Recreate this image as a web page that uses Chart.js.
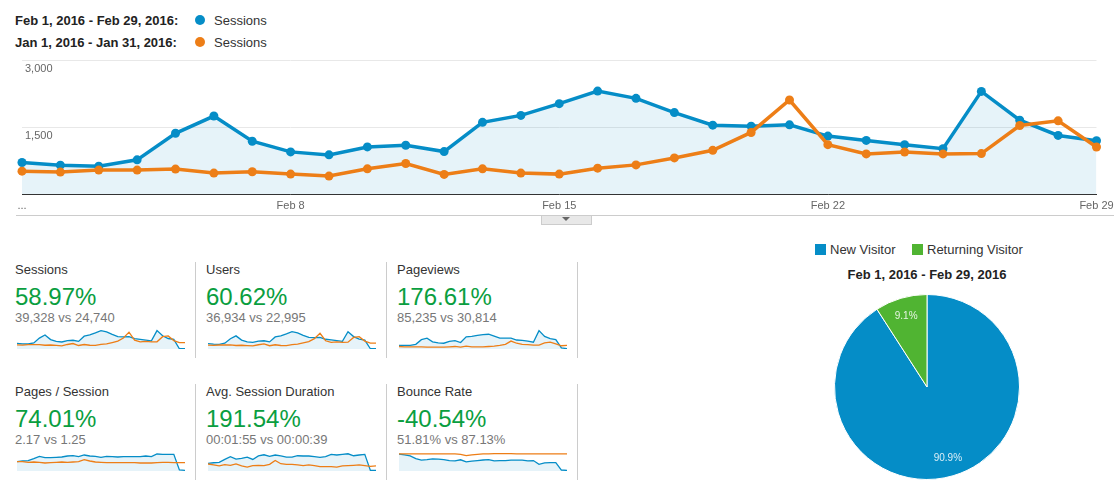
<!DOCTYPE html>
<html>
<head>
<meta charset="utf-8">
<title>Sessions</title>
<script src="https://cdn.jsdelivr.net/npm/chart.js@4/dist/chart.umd.min.js"></script>
<style>
    html, body { margin: 0; padding: 0; background: #fff; }
    body { position: relative; width: 1114px; height: 483px; overflow: hidden; font-family: "Liberation Sans", Arial, sans-serif; color: #333; }
    canvas { position: absolute; }
    .txt { position: absolute; white-space: nowrap; line-height: 16px; font-size: 13px; }
    .range { font-weight: bold; font-size: 13px; color: #222; left: 15px; }
    .dot { position: absolute; width: 10px; height: 10px; border-radius: 50%; left: 195px; }
    .pct { font-size: 24px; line-height: 28px; color: #0a9e40; }
    .sub { color: #777; }
    .divider { position: absolute; width: 1px; background: #ccc; }
    .square { position: absolute; width: 11px; height: 11px; top: 244px; }
</style>
</head>
<body>
<div class="txt range" style="top:13px">Feb 1, 2016 - Feb 29, 2016:</div>
<div class="dot" style="top:15px;background:#058dc7"></div>
<div class="txt" style="left:214px;top:13px">Sessions</div>
<div class="txt range" style="top:35px">Jan 1, 2016 - Jan 31, 2016:</div>
<div class="dot" style="top:37px;background:#ed7e17"></div>
<div class="txt" style="left:214px;top:35px">Sessions</div>

<canvas id="grafico" width="1114" height="170" style="left:0;top:50px"></canvas>

<div style="position:absolute;left:16px;right:0;top:215px;height:1px;background:#ccc"></div>
<div style="position:absolute;left:541px;top:215px;width:49px;height:8px;background:#e8e8e8;border:1px solid #ccc"></div>
<div style="position:absolute;left:562px;top:217px;border-left:4px solid transparent;border-right:4px solid transparent;border-top:4px solid #666"></div>

<div id="metricas"></div>

<div class="square" style="left:815px;background:#058dc7"></div>
<div class="txt" style="left:830px;top:242px">New Visitor</div>
<div class="square" style="left:912px;background:#50b432"></div>
<div class="txt" style="left:927px;top:242px">Returning Visitor</div>
<div class="txt" style="left:827px;width:200px;text-align:center;top:267px;font-weight:bold;font-size:13px;color:#222">Feb 1, 2016 - Feb 29, 2016</div>
<canvas id="pastel" width="194" height="194" style="left:830px;top:290px"></canvas>

<script>
const dias = ['Feb 1', 'Feb 2', 'Feb 3', 'Feb 4', 'Feb 5', 'Feb 6', 'Feb 7', 'Feb 8', 'Feb 9', 'Feb 10',
    'Feb 11', 'Feb 12', 'Feb 13', 'Feb 14', 'Feb 15', 'Feb 16', 'Feb 17', 'Feb 18', 'Feb 19', 'Feb 20',
    'Feb 21', 'Feb 22', 'Feb 23', 'Feb 24', 'Feb 25', 'Feb 26', 'Feb 27', 'Feb 28', 'Feb 29'];
const etiquetasX = ['...', 'Feb 8', 'Feb 15', 'Feb 22', 'Feb 29'];
const diasConEtiqueta = [0, 7, 14, 21, 28];
const etiquetasY = ['', '1,500', '3,000'];

const sesionesFeb = [705, 646, 624, 765, 1359, 1745, 1181, 943, 876, 1054, 1092, 950, 1604, 1760, 2023,
    2304, 2141, 1823, 1541, 1519, 1549, 1297, 1200, 1104, 1015, 2297, 1652, 1311, 1193];
const sesionesEne = [512, 490, 535, 535, 557, 468, 498, 446, 401, 564, 683, 438, 564, 468, 445,
    578, 652, 808, 978, 1378, 2104, 1104, 897, 941, 897, 904, 1534, 1638, 1052];

// sparklines: 31 puntos
const sparkSesionesFeb = [705, 646, 624, 765, 1359, 1745, 1181, 943, 876, 1054, 1092, 950, 1604, 1760, 2023,
    2304, 2141, 1823, 1541, 1519, 1549, 1297, 1200, 1104, 1015, 2297, 1652, 1311, 1193, 30, 30];
const sparkSesionesEne = [512, 490, 535, 535, 557, 468, 498, 446, 401, 564, 683, 438, 564, 468, 445,
    578, 652, 808, 978, 1378, 2104, 1104, 897, 941, 897, 904, 1534, 1638, 1052, 800, 790];
const sparkUsuariosFeb = [660, 610, 590, 720, 1280, 1640, 1110, 890, 820, 990, 1030, 890, 1510, 1650, 1900,
    2170, 2010, 1710, 1450, 1430, 1460, 1220, 1130, 1040, 950, 2160, 1550, 1230, 1120, 30, 30];
const sparkUsuariosEne = [480, 460, 500, 500, 520, 440, 470, 420, 380, 530, 640, 410, 530, 440, 420,
    540, 610, 760, 920, 1290, 1970, 1030, 840, 880, 840, 850, 1440, 1540, 990, 740, 730];
const sparkVistasFeb = [1200, 1200, 1200, 1560, 3120, 3600, 2400, 2040, 1920, 2520, 2760, 2160, 4080, 4200, 4560,
    4800, 4920, 4320, 3600, 3600, 3600, 3000, 2880, 2640, 2280, 6120, 4200, 3480, 3120, 360, 120];
const sparkVistasEne = [840, 720, 720, 720, 720, 600, 600, 600, 600, 720, 840, 600, 960, 720, 720,
    720, 840, 960, 1200, 1560, 2640, 1920, 1560, 1440, 1320, 1320, 2040, 2280, 1680, 1080, 1200];
const sparkPaginasFeb = [1.40, 1.50, 1.55, 1.85, 2.20, 2.00, 2.00, 2.05, 2.10, 2.25, 2.30, 2.15, 2.40, 2.25, 2.20,
    2.05, 2.20, 2.15, 2.10, 2.15, 2.15, 2.15, 2.15, 2.25, 2.15, 2.55, 2.50, 2.50, 2.50, 0.15, 0.10];
const sparkPaginasEne = [1.40, 1.40, 1.30, 1.35, 1.30, 1.20, 1.25, 1.30, 1.35, 1.30, 1.35, 1.40, 1.70, 1.50, 1.35,
    1.30, 1.25, 1.25, 1.25, 1.25, 1.25, 1.25, 1.20, 1.20, 1.20, 1.25, 1.30, 1.30, 1.25, 1.25, 1.25];
const sparkDuracionFeb = [62, 67, 70, 94, 116, 97, 103, 113, 94, 122, 132, 119, 130, 122, 113,
    113, 124, 122, 122, 116, 111, 116, 135, 130, 135, 140, 124, 130, 135, 5, 5];
const sparkDuracionEne = [57, 49, 41, 51, 46, 57, 41, 32, 43, 46, 43, 54, 86, 59, 54,
    54, 49, 43, 49, 43, 35, 35, 35, 32, 41, 43, 46, 49, 43, 38, 41];
const sparkReboteFeb = [85.5, 82, 77, 63, 55, 58, 62, 60, 58, 53, 51, 57, 46, 50, 53,
    56, 58, 51, 53, 53, 55, 55, 55, 51, 53, 34, 41, 43, 43, 5, 3];
const sparkReboteEne = [87, 87, 87, 87, 87, 87, 87, 87, 87, 87, 87, 85, 78, 82, 85,
    87, 87.5, 88, 88, 88, 88, 87.5, 87, 87, 87, 87, 87, 87, 87, 87, 87];

const metricas = ['Sessions', 'Users', 'Pageviews', 'Pages / Session', 'Avg. Session Duration', 'Bounce Rate'];
const porcentajes = ['58.97%', '60.62%', '176.61%', '74.01%', '191.54%', '-40.54%'];
const comparaciones = ['39,328 vs 24,740', '36,934 vs 22,995', '85,235 vs 30,814', '2.17 vs 1.25', '00:01:55 vs 00:00:39', '51.81% vs 87.13%'];
const seriesFeb = [sparkSesionesFeb, sparkUsuariosFeb, sparkVistasFeb, sparkPaginasFeb, sparkDuracionFeb, sparkReboteFeb];
const seriesEne = [sparkSesionesEne, sparkUsuariosEne, sparkVistasEne, sparkPaginasEne, sparkDuracionEne, sparkReboteEne];
const topesSpark = [3000, 3000, 8000, 3.6, 195, 122];

const tiposVisitante = ['New Visitor', 'Returning Visitor'];
const partesVisitante = [90.9, 9.1];
const etiquetasPastel = ['90.9%', '9.1%'];

const AZUL = '#058dc7';
const NARANJA = '#ed7e17';
const VERDE = '#50b432';
const RELLENO = 'rgba(5,141,199,0.1)';

Chart.defaults.font.family = '"Liberation Sans", Arial, sans-serif';
Chart.defaults.animation = false;
Chart.defaults.responsive = false;
Chart.defaults.plugins.legend.display = false;
Chart.defaults.plugins.tooltip.enabled = false;

/* grafico principal */
new Chart(document.getElementById('grafico'), {
    type: 'line',
    data: {
        labels: dias,
        datasets: [
            {
                data: sesionesFeb,
                borderColor: AZUL,
                backgroundColor: RELLENO,
                pointBackgroundColor: AZUL,
                pointBorderWidth: 0,
                pointRadius: 4.5,
                borderWidth: 3.5,
                tension: 0,
                fill: 'origin',
                clip: false,
                order: 1
            },
            {
                data: sesionesEne,
                borderColor: NARANJA,
                pointBackgroundColor: NARANJA,
                pointBorderWidth: 0,
                pointRadius: 4.5,
                borderWidth: 3.5,
                tension: 0,
                fill: false,
                clip: false,
                order: 0
            }
        ]
    },
    options: {
        layout: { padding: { left: 22, right: 17.5, top: 10, bottom: 0 } },
        scales: {
            x: {
                afterFit: escala => {
                    escala.height = 26;
                    escala.paddingLeft = 0;
                    escala.paddingRight = 0;
                },
                grid: { display: false, drawTicks: false },
                border: { color: '#333', width: 1 },
                ticks: {
                    autoSkip: false,
                    maxRotation: 0,
                    padding: 5,
                    color: '#666',
                    font: { size: 11 },
                    callback: (valor, i) => {
                        const pos = diasConEtiqueta.indexOf(i);
                        return pos >= 0 ? etiquetasX[pos] : '';
                    }
                }
            },
            y: {
                min: 0,
                max: 3000,
                afterFit: escala => { escala.width = 0; },
                grid: { color: '#e8e8e8', drawTicks: false },
                border: { display: false },
                ticks: {
                    stepSize: 1500,
                    mirror: true,
                    padding: 3,
                    labelOffset: 9,
                    color: '#666',
                    font: { size: 11 },
                    callback: (valor, i) => etiquetasY[i]
                }
            }
        }
    }
});

/* metricas */
const contenedor = document.getElementById('metricas');
const columnasX = [15, 206, 397];
const lineasX = [195, 386, 577];
const filasY = [262, 384];

metricas.forEach((nombre, i) => {
    const col = i % 3;
    const fila = Math.floor(i / 3);
    const x = columnasX[col];
    const y = filasY[fila];

    contenedor.insertAdjacentHTML('beforeend',
        `<div class="txt" style="left:${x}px;top:${y}px">${nombre}</div>` +
        `<div class="txt pct" style="left:${x}px;top:${y + 21}px">${porcentajes[i]}</div>` +
        `<div class="txt sub" style="left:${x}px;top:${y + 48}px">${comparaciones[i]}</div>` +
        `<div class="divider" style="left:${lineasX[col]}px;top:${y}px;height:96px"></div>`);

    const lienzo = document.createElement('canvas');
    lienzo.width = 168;
    lienzo.height = 24;
    lienzo.style.left = (x + 2) + 'px';
    lienzo.style.top = (y + 63) + 'px';
    contenedor.appendChild(lienzo);

    new Chart(lienzo, {
        type: 'line',
        data: {
            labels: seriesFeb[i].map((v, n) => n + 1),
            datasets: [
                {
                    data: seriesFeb[i],
                    borderColor: AZUL,
                    backgroundColor: RELLENO,
                    borderWidth: 1.3,
                    pointRadius: 0,
                    tension: 0,
                    fill: 'origin',
                    clip: false,
                    order: 1
                },
                {
                    data: seriesEne[i],
                    borderColor: NARANJA,
                    borderWidth: 1.3,
                    pointRadius: 0,
                    tension: 0,
                    fill: false,
                    clip: false,
                    order: 0
                }
            ]
        },
        options: {
            layout: { padding: 0 },
            scales: {
                x: { display: false },
                y: { display: false, min: 0, max: topesSpark[i] }
            }
        }
    });
});

/* pastel */
const textoPastel = {
    id: 'textoPastel',
    afterDatasetsDraw(chart) {
        const ctx = chart.ctx;
        ctx.save();
        ctx.fillStyle = 'rgba(255,255,255,0.85)';
        ctx.font = '10px "Liberation Sans", Arial, sans-serif';
        ctx.textAlign = 'center';
        ctx.textBaseline = 'middle';
        chart.getDatasetMeta(0).data.forEach((arco, i) => {
            const medio = (arco.startAngle + arco.endAngle) / 2;
            const r = arco.outerRadius * 0.8;
            ctx.fillText(etiquetasPastel[i], arco.x + Math.cos(medio) * r, arco.y + Math.sin(medio) * r);
        });
        ctx.restore();
    }
};

new Chart(document.getElementById('pastel'), {
    type: 'pie',
    data: {
        labels: tiposVisitante,
        datasets: [{
            data: partesVisitante,
            backgroundColor: [AZUL, VERDE],
            borderColor: '#fff',
            borderWidth: 1,
            hoverOffset: 0
        }]
    },
    options: {
        layout: { padding: 4 }
    },
    plugins: [textoPastel]
});
</script>
</body>
</html>
